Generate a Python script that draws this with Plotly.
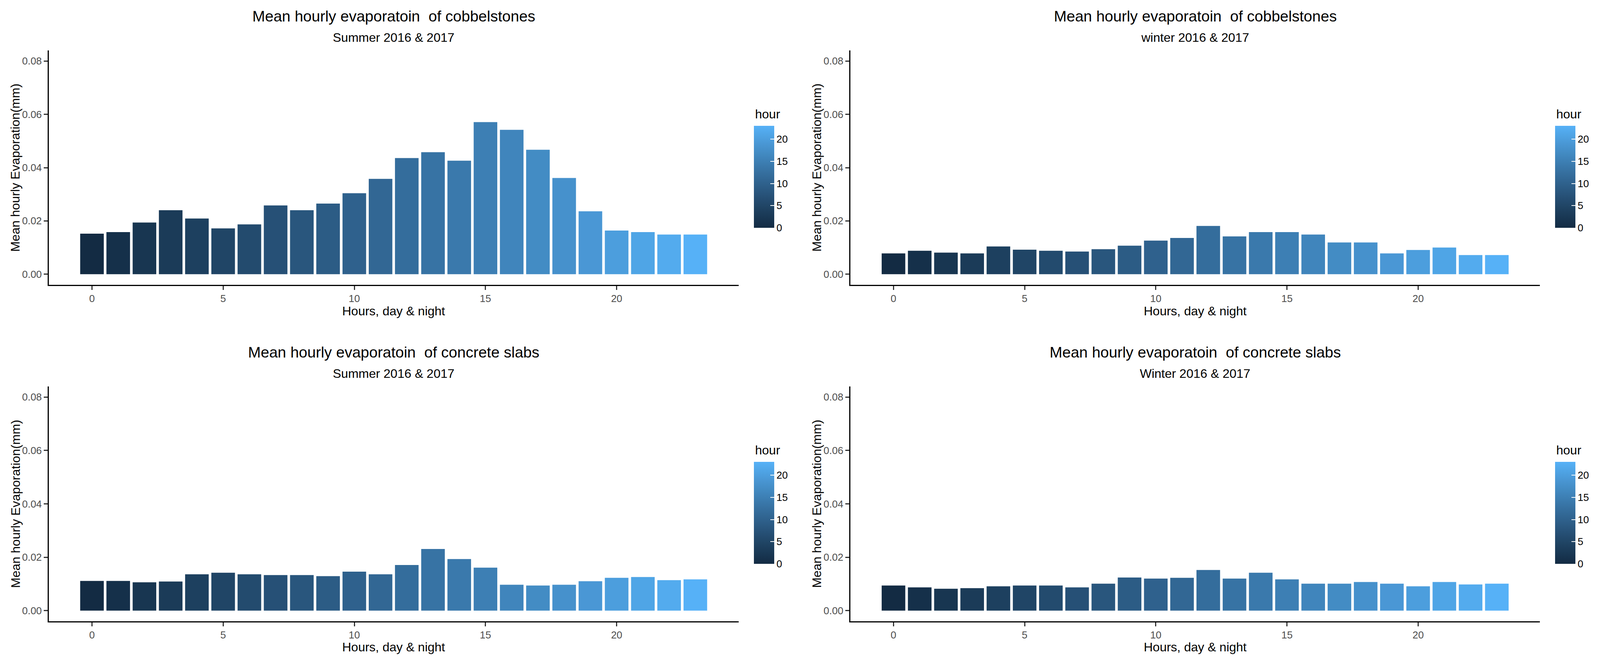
import plotly.graph_objects as go

W, H = 4292, 1684

# ---------------- data ----------------
hours = list(range(24))

cobble_summer = [0.0152, 0.0158, 0.0194, 0.0240, 0.0209, 0.0172, 0.0187, 0.0258,
                 0.0240, 0.0265, 0.0304, 0.0358, 0.0436, 0.0458, 0.0426, 0.0571,
                 0.0542, 0.0467, 0.0361, 0.0236, 0.0164, 0.0158, 0.0149, 0.0149]
cobble_winter = [0.0078, 0.0088, 0.0081, 0.0078, 0.0104, 0.0092, 0.0088, 0.0085,
                 0.0094, 0.0107, 0.0126, 0.0136, 0.0181, 0.0142, 0.0158, 0.0158,
                 0.0149, 0.0119, 0.0119, 0.0078, 0.0091, 0.0100, 0.0072, 0.0072]
concrete_summer = [0.0111, 0.0111, 0.0106, 0.0109, 0.0136, 0.0142, 0.0136, 0.0133,
                   0.0133, 0.0129, 0.0146, 0.0136, 0.0171, 0.0231, 0.0193, 0.0161,
                   0.0097, 0.0094, 0.0097, 0.0110, 0.0123, 0.0126, 0.0114, 0.0117]
concrete_winter = [0.0094, 0.0087, 0.0082, 0.0084, 0.0091, 0.0094, 0.0094, 0.0087,
                   0.0101, 0.0124, 0.0120, 0.0123, 0.0152, 0.0120, 0.0142, 0.0117,
                   0.0101, 0.0101, 0.0107, 0.0101, 0.0091, 0.0107, 0.0098, 0.0101]

titles = ["Mean hourly evaporatoin  of cobbelstones",
          "Mean hourly evaporatoin  of cobbelstones",
          "Mean hourly evaporatoin  of concrete slabs",
          "Mean hourly evaporatoin  of concrete slabs"]
subtitles = ["Summer 2016 & 2017", "winter 2016 & 2017",
             "Summer 2016 & 2017", "Winter 2016 & 2017"]
x_title = "Hours, day & night"
y_title = "Mean hourly Evaporation(mm)"
legend_title = "hour"

y_tick_vals = [0.0, 0.02, 0.04, 0.06, 0.08]
y_tick_text = ["0.00", "0.02", "0.04", "0.06", "0.08"]
x_tick_vals = [0, 5, 10, 15, 20]
cb_tick_vals = [0, 5, 10, 15, 20]

series = [cobble_summer, cobble_winter, concrete_summer, concrete_winter]

# ---------------- colour scale (ggplot default, Lab interpolation) ----------------
LOW, HIGH = "#132B43", "#56B1F7"


def hex2rgb(h):
    h = h.lstrip("#")
    return [int(h[i:i + 2], 16) / 255 for i in (0, 2, 4)]


def to_lin(c):
    return c / 12.92 if c <= 0.04045 else ((c + 0.055) / 1.055) ** 2.4


def to_srgb(c):
    c = max(0.0, min(1.0, c))
    return 12.92 * c if c <= 0.0031308 else 1.055 * c ** (1 / 2.4) - 0.055


WHITE = (0.95047, 1.0, 1.08883)


def rgb2lab(rgb):
    r, g, b = [to_lin(c) for c in rgb]
    X = 0.4124 * r + 0.3576 * g + 0.1805 * b
    Y = 0.2126 * r + 0.7152 * g + 0.0722 * b
    Z = 0.0193 * r + 0.1192 * g + 0.9505 * b

    def f(t):
        return t ** (1 / 3) if t > 0.008856 else 7.787 * t + 16 / 116
    fx, fy, fz = f(X / WHITE[0]), f(Y / WHITE[1]), f(Z / WHITE[2])
    return (116 * fy - 16, 500 * (fx - fy), 200 * (fy - fz))


def lab2hex(lab):
    L, a, b = lab
    fy = (L + 16) / 116
    fx = fy + a / 500
    fz = fy - b / 200

    def finv(t):
        return t ** 3 if t ** 3 > 0.008856 else (t - 16 / 116) / 7.787
    X, Y, Z = finv(fx) * WHITE[0], finv(fy) * WHITE[1], finv(fz) * WHITE[2]
    r = 3.2406 * X - 1.5372 * Y - 0.4986 * Z
    g = -0.9689 * X + 1.8758 * Y + 0.0415 * Z
    bb = 0.0557 * X - 0.2040 * Y + 1.0570 * Z
    return "#%02x%02x%02x" % tuple(int(round(to_srgb(c) * 255)) for c in (r, g, bb))


lab_lo, lab_hi = rgb2lab(hex2rgb(LOW)), rgb2lab(hex2rgb(HIGH))
n_stops = 12
colorscale = []
for i in range(n_stops):
    t = i / (n_stops - 1)
    lab = tuple(lab_lo[k] + (lab_hi[k] - lab_lo[k]) * t for k in range(3))
    colorscale.append([t, lab2hex(lab)])

# ---------------- layout geometry (reference pixels -> paper fractions) ----------------
panel_x = [(131, 1981), (2281, 4131), (131, 1981), (2281, 4131)]
panel_y = [(129, 729), (129, 729), (989, 1590), (989, 1590)]
cb_x = [2022, 4172, 2022, 4172]
cb_y = [(322, 583), (322, 583), (1182, 1443), (1182, 1443)]
dy = [0, 0, 860, 860]

FONT = "Liberation Sans, Arial, sans-serif"
TICK_COLOR = "#4D4D4D"

fig = go.Figure()
layout = dict(
    autosize=True,
    margin=dict(l=0, r=0, t=0, b=0, pad=0),
    paper_bgcolor="white", plot_bgcolor="white",
    bargap=0.1, showlegend=False,
    font=dict(family=FONT, color="black"),
)
annotations = []

for i, vals in enumerate(series):
    n = i + 1
    xa = "x" if n == 1 else f"x{n}"
    ya = "y" if n == 1 else f"y{n}"
    ca = "coloraxis" if n == 1 else f"coloraxis{n}"
    fig.add_trace(go.Bar(
        x=hours, y=vals, xaxis=xa, yaxis=ya,
        marker=dict(color=hours, coloraxis=ca, line=dict(width=0)),
        hoverinfo="x+y",
    ))
    x0, x1 = panel_x[i]
    y0, y1 = panel_y[i]
    xkey = "xaxis" if n == 1 else f"xaxis{n}"
    ykey = "yaxis" if n == 1 else f"yaxis{n}"
    layout[xkey] = dict(
        domain=[x0 / W, x1 / W], anchor=ya, range=[-1.645, 24.645],
        tickmode="array", tickvals=x_tick_vals, ticks="outside", ticklen=10,
        tickwidth=2.5, tickcolor="#333333", showline=True, linecolor="black",
        linewidth=2.5, showgrid=False, zeroline=False,
        tickfont=dict(family=FONT, size=26, color=TICK_COLOR),
    )
    layout[ykey] = dict(
        domain=[1 - y1 / H, 1 - y0 / H], anchor=xa, range=[-0.004, 0.084],
        tickmode="array", tickvals=y_tick_vals, ticktext=y_tick_text,
        ticks="outside", ticklen=10, tickwidth=2.5, tickcolor="#333333",
        showline=True, linecolor="black", linewidth=2.5, showgrid=False,
        zeroline=False, tickfont=dict(family=FONT, size=26, color=TICK_COLOR),
    )
    cy0, cy1 = cb_y[i]
    layout[ca] = dict(
        cmin=0, cmax=23, colorscale=colorscale,
        colorbar=dict(
            x=cb_x[i] / W, xanchor="left", xpad=0,
            y=1 - (cy0 + cy1) / 2 / H, yanchor="middle", ypad=0,
            len=(cy1 - cy0) / H, lenmode="fraction", thickness=52,
            outlinewidth=0, tickvals=cb_tick_vals, ticks="inside",
            ticklen=10, tickwidth=2, tickcolor="white",
            tickfont=dict(family=FONT, size=26, color="black"),
        ),
    )
    cx = (x0 + x1) / 2 / W
    annotations += [
        dict(text=titles[i], x=cx, y=1 - (41.5 + dy[i]) / H, xref="paper", yref="paper",
             xanchor="center", yanchor="middle", showarrow=False,
             font=dict(family=FONT, size=39, color="black")),
        dict(text=subtitles[i], x=cx, y=1 - (96 + dy[i]) / H, xref="paper", yref="paper",
             xanchor="center", yanchor="middle", showarrow=False,
             font=dict(family=FONT, size=32, color="black")),
        dict(text=x_title, x=cx, y=1 - (796 + dy[i]) / H, xref="paper", yref="paper",
             xanchor="center", yanchor="middle", showarrow=False,
             font=dict(family=FONT, size=32, color="black")),
        dict(text=y_title, x=(41 + (x0 - 131)) / W, y=1 - ((y0 + y1) / 2) / H,
             xref="paper", yref="paper", xanchor="center", yanchor="middle",
             textangle=-90, showarrow=False,
             font=dict(family=FONT, size=32, color="black")),
        dict(text=legend_title, x=(cb_x[i] + 1) / W, y=1 - (292 + dy[i]) / H,
             xref="paper", yref="paper", xanchor="left", yanchor="middle",
             showarrow=False, font=dict(family=FONT, size=32, color="black")),
    ]

layout["annotations"] = annotations
fig.update_layout(**layout)

# Fit the figure exactly to the browser viewport (no body margin, no scrollbars)
post = (
    "document.documentElement.style.margin='0';"
    "document.documentElement.style.overflow='hidden';"
    "document.body.style.margin='0';"
    "document.body.style.overflow='hidden';"
    "var gd=document.getElementById('{plot_id}');"
    "Plotly.relayout(gd,{width:window.innerWidth,height:window.innerHeight});"
)
fig.write_html("out.html", default_width="100vw", default_height="100vh",
               post_script=post,
               config={"responsive": True, "displayModeBar": False})
